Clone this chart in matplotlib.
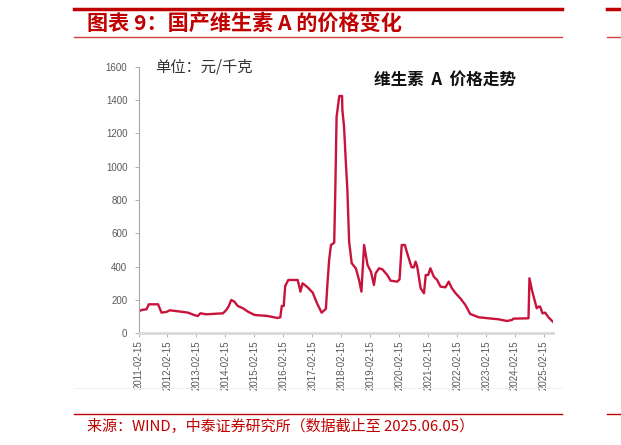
import matplotlib
matplotlib.use("Agg")
import matplotlib.pyplot as plt
import pandas as pd
from matplotlib.lines import Line2D

plt.rcParams['font.family'] = ['Noto Sans CJK SC', 'DejaVu Sans']

dates = ["2011-02-15", "2011-03-25", "2011-05-27", "2011-06-25", "2011-10-20", "2011-12-02",
         "2012-02-01", "2012-03-15", "2012-06-27", "2012-11-01", "2013-01-25", "2013-03-05",
         "2013-04-05", "2013-06-20", "2014-01-15", "2014-02-27", "2014-03-30", "2014-04-30",
         "2014-06-08", "2014-07-20", "2014-09-25", "2014-11-25", "2015-02-18", "2015-08-01",
         "2015-12-05", "2016-01-08", "2016-01-27", "2016-02-20", "2016-03-10", "2016-04-18",
         "2016-08-15", "2016-09-18", "2016-10-15", "2016-12-18", "2017-02-20", "2017-04-15",
         "2017-06-12", "2017-08-05", "2017-08-25", "2017-09-15", "2017-10-08", "2017-11-18",
         "2017-12-01", "2017-12-18", "2018-01-01", "2018-01-21", "2018-02-25", "2018-03-01",
         "2018-03-22", "2018-04-12", "2018-05-03", "2018-05-25", "2018-06-27", "2018-08-18",
         "2018-09-27", "2018-10-27", "2018-11-30", "2019-01-12", "2019-02-24", "2019-04-03",
         "2019-04-24", "2019-06-06", "2019-07-18", "2019-09-18", "2019-10-30", "2020-01-21",
         "2020-02-20", "2020-03-18", "2020-04-27", "2020-05-27", "2020-07-21", "2020-08-18",
         "2020-09-09", "2020-09-30", "2020-11-12", "2020-12-24", "2021-01-15", "2021-02-15",
         "2021-03-15", "2021-04-27", "2021-06-08", "2021-07-21", "2021-09-21", "2021-11-01",
         "2021-12-12", "2022-01-27", "2022-03-27", "2022-05-30", "2022-07-30", "2022-11-15",
         "2023-03-18", "2023-07-24", "2023-11-05", "2024-01-06", "2024-01-27", "2024-08-03",
         "2024-08-15", "2024-09-15", "2024-10-18", "2024-11-15", "2024-12-06", "2024-12-28",
         "2025-01-27", "2025-03-01", "2025-04-12", "2025-06-05"]
prices = [130, 140, 144, 174, 174, 124,
          128, 138, 132, 124, 108, 104,
          120, 114, 120, 140, 164, 200,
          190, 164, 150, 130, 110, 104,
          92, 96, 164, 164, 284, 320,
          320, 250, 300, 276, 244, 180,
          124, 147, 300, 440, 530, 544,
          840, 1300, 1350, 1424, 1424, 1340,
          1240, 1040, 860, 550, 420, 390,
          320, 250, 530, 410, 370, 290,
          360, 390, 384, 350, 316, 310,
          324, 530, 530, 480, 396, 396,
          430, 400, 270, 240, 350, 350,
          390, 340, 320, 280, 276, 310,
          270, 240, 210, 170, 116, 96,
          90, 84, 74, 80, 88, 90,
          330, 260, 200, 150, 160, 160,
          120, 124, 96, 70]

tick_dates = [f"{y}-02-15" for y in range(2011, 2026)]
yticks = [0, 200, 400, 600, 800, 1000, 1200, 1400, 1600]

title = "图表 9：国产维生素 A 的价格变化"
unit_text = "单位：元/千克"
chart_title = "维生素  A  价格走势"
source = "来源：WIND，中泰证券研究所（数据截止至 2025.06.05）"

red = "#c00000"
line_color = "#c8143c"

W, H = 621, 445
fig = plt.figure(figsize=(W / 100, H / 100), dpi=100)

def fx(px):
    return px / W

def fy(py):
    return 1 - py / H

# faint chart area bottom edge
fig.add_artist(Line2D([fx(74), fx(562)], [fy(388), fy(388)], color="#f2f2f2", lw=0.8))

ax = fig.add_axes([fx(138.5), fy(333.3), fx(553 - 138.5), (333.3 - 66.7) / H])
x = pd.to_datetime(dates)
ax.plot(x, prices, color=line_color, lw=1.7, solid_joinstyle="round")

ax.set_ylim(0, 1600)
ax.set_yticks(yticks)
ax.set_yticklabels([str(v) for v in yticks], fontsize=7, color="#595959", family="Liberation Sans")
ax.set_xlim(pd.Timestamp("2011-02-15"), pd.Timestamp("2025-06-08"))
ax.set_xticks(pd.to_datetime(tick_dates))
ax.set_xticklabels(tick_dates, rotation=90, fontsize=7, color="#595959", family="Liberation Sans")

for s in ["top", "right"]:
    ax.spines[s].set_visible(False)
ax.spines["left"].set_color("#a6a6a6")
ax.spines["left"].set_linewidth(0.8)
ax.spines["bottom"].set_color("#d9d9d9")
ax.spines["bottom"].set_linewidth(2.0)
ax.tick_params(axis="y", length=3, width=0.6, color="#a6a6a6", pad=5)
ax.tick_params(axis="x", length=3, width=0.6, color="#a6a6a6", pad=2)

fig.text(fx(155), fy(67), unit_text, fontsize=11, color="#333333", ha="left", va="center")
fig.text(fx(445), fy(80), chart_title, fontsize=12, fontweight="bold", color="#111111",
         ha="center", va="center")

# header lines
for (x0, x1) in [(74, 562), (607, 621)]:
    fig.add_artist(Line2D([fx(x0), fx(x1)], [fy(8.5), fy(8.5)], color=red, lw=2.5))
    fig.add_artist(Line2D([fx(x0), fx(x1)], [fy(37), fy(37)], color="#d24040", lw=1.0))
    fig.add_artist(Line2D([fx(x0), fx(x1)], [fy(414), fy(414)], color=red, lw=1.0))

fig.text(fx(87), fy(23), title, fontsize=15.2, fontweight="bold", color=red,
         ha="left", va="center")
fig.text(fx(87), fy(426), source, fontsize=10.8, color=red, ha="left", va="center")

fig.savefig("out.png", dpi=100)
